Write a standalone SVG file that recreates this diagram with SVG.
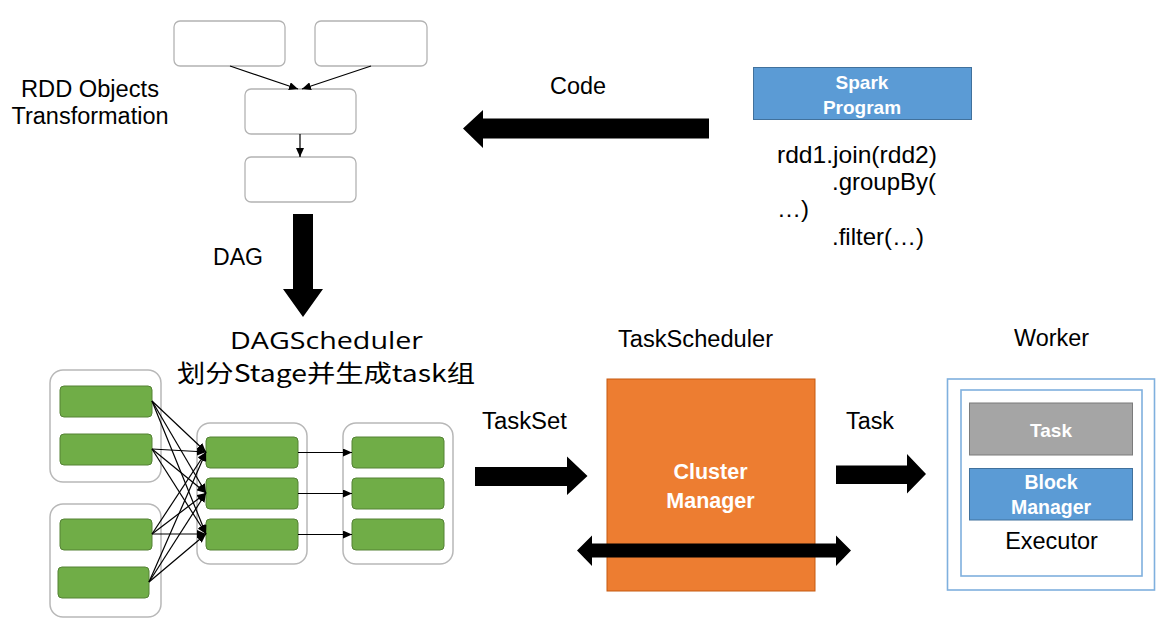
<svg xmlns="http://www.w3.org/2000/svg" width="1172" height="625" viewBox="0 0 1172 625">
<defs>
<marker id="ah" markerUnits="userSpaceOnUse" markerWidth="9" markerHeight="8" refX="9" refY="4" orient="auto">
<path d="M0,0 L9,4 L0,8 z" fill="#000"/>
</marker>
<style>
.lbl{font-family:"Liberation Sans",Arial,sans-serif;fill:#000}
.wb{font-family:"Liberation Sans",Arial,sans-serif;fill:#fff;font-weight:bold}
.cjk{font-family:"Noto Sans CJK SC","Open Sans",sans-serif;fill:#000}
.seg{font-family:"Open Sans","Noto Sans",sans-serif;fill:#000}
.rdd{fill:#fff;stroke:#b3b3b3;stroke-width:1.3}
.grp{fill:#fff;stroke:#b8b8b8;stroke-width:1.5}
.grn{fill:#70ad47;stroke:#548235;stroke-width:1}
.ln{stroke:#000;stroke-width:1.2;fill:none;marker-end:url(#ah)}
.big{fill:#000}
</style>
</defs>
<rect width="1172" height="625" fill="#fff"/>

<!-- RDD objects -->
<g id="rdd-a"><rect class="rdd" x="174" y="21" width="111" height="45" rx="6"/></g>
<g id="rdd-b"><rect class="rdd" x="315" y="21" width="112" height="45" rx="6"/></g>
<g id="rdd-c"><rect class="rdd" x="245" y="89" width="111" height="45" rx="6"/></g>
<g id="rdd-d"><rect class="rdd" x="245" y="157" width="111" height="45" rx="6"/></g>

<g id="label-rdd">
<text class="lbl" x="90" y="97" font-size="23" text-anchor="middle" textLength="138" lengthAdjust="spacingAndGlyphs">RDD Objects</text>
<text class="lbl" x="90" y="124" font-size="23" text-anchor="middle" textLength="157" lengthAdjust="spacingAndGlyphs">Transformation</text>
</g>
<g id="label-dag"><text class="lbl" x="213" y="265" font-size="23" textLength="50" lengthAdjust="spacingAndGlyphs">DAG</text></g>
<g id="label-code"><text class="lbl" x="550" y="94" font-size="23" textLength="56" lengthAdjust="spacingAndGlyphs">Code</text></g>

<!-- Spark program -->
<g id="spark-program">
<rect x="753.5" y="67.5" width="218" height="52" fill="#5b9bd5" stroke="#41719c" stroke-width="1"/>
<text class="wb" x="862" y="88.5" font-size="19" text-anchor="middle">Spark</text>
<text class="wb" x="862" y="113.5" font-size="19" text-anchor="middle">Program</text>
</g>
<g id="code-text">
<text class="lbl" x="777" y="163" font-size="24" textLength="160" lengthAdjust="spacingAndGlyphs">rdd1.join(rdd2)</text>
<text class="lbl" x="832" y="190" font-size="24">.groupBy(</text>
<text class="lbl" x="777" y="217" font-size="24">…)</text>
<text class="lbl" x="832" y="245" font-size="24">.filter(…)</text>
</g>

<!-- DAGScheduler -->
<g id="dag-scheduler-label">
<text class="seg" x="230" y="349" font-size="24" textLength="193" lengthAdjust="spacingAndGlyphs">DAGScheduler</text>
<text class="cjk" x="177" y="382" font-size="24" textLength="298" lengthAdjust="spacingAndGlyphs">划分Stage并生成task组</text>
</g>

<!-- stage groups -->
<g id="stage-a">
<rect class="grp" x="50" y="370" width="111" height="112" rx="13"/>
<rect class="grn" x="60" y="386" width="92" height="31" rx="4"/>
<rect class="grn" x="60" y="434" width="92" height="31" rx="4"/>
</g>
<g id="stage-b">
<rect class="grp" x="50" y="504" width="111" height="113" rx="13"/>
<rect class="grn" x="60" y="519" width="92" height="31" rx="4"/>
<rect class="grn" x="58" y="567" width="91" height="31" rx="4"/>
</g>
<g id="stage-c">
<rect class="grp" x="197" y="423" width="110" height="141" rx="13"/>
<rect class="grn" x="206" y="437" width="92" height="31" rx="4"/>
<rect class="grn" x="206" y="478" width="92" height="31" rx="4"/>
<rect class="grn" x="206" y="519" width="92" height="31" rx="4"/>
</g>
<g id="stage-d">
<rect class="grp" x="343" y="423" width="110" height="141" rx="13"/>
<rect class="grn" x="352" y="437" width="92" height="31" rx="4"/>
<rect class="grn" x="352" y="478" width="92" height="31" rx="4"/>
<rect class="grn" x="352" y="519" width="92" height="31" rx="4"/>
</g>

<!-- TaskScheduler -->
<g id="task-scheduler-label"><text class="lbl" x="618" y="347" font-size="23" textLength="155" lengthAdjust="spacingAndGlyphs">TaskScheduler</text></g>
<g id="cluster-manager">
<rect x="607" y="379" width="208" height="212" fill="#ed7d31" stroke="#c55a11" stroke-width="1"/>
<text class="wb" x="710.5" y="479" font-size="21.5" text-anchor="middle">Cluster</text>
<text class="wb" x="710.5" y="507.5" font-size="21.5" text-anchor="middle">Manager</text>
</g>
<g id="label-taskset"><text class="lbl" x="482" y="429" font-size="23" textLength="85" lengthAdjust="spacingAndGlyphs">TaskSet</text></g>
<g id="label-task"><text class="lbl" x="846" y="429" font-size="23" textLength="48" lengthAdjust="spacingAndGlyphs">Task</text></g>

<!-- Worker -->
<g id="worker-label"><text class="lbl" x="1014" y="346" font-size="23" textLength="75" lengthAdjust="spacingAndGlyphs">Worker</text></g>
<g id="worker">
<rect x="947.5" y="379" width="207" height="211" fill="#fff" stroke="#7fb0de" stroke-width="1.6"/>
</g>
<g id="executor">
<rect x="961" y="390" width="181" height="186" fill="#fff" stroke="#7fb0de" stroke-width="1.6"/>
<text class="lbl" x="1051.5" y="549" font-size="23.5" text-anchor="middle">Executor</text>
</g>
<g id="task">
<rect x="969.5" y="403" width="163" height="52" fill="#a5a5a5" stroke="#7b7b7b" stroke-width="1"/>
<text class="wb" x="1051" y="436.5" font-size="19" text-anchor="middle">Task</text>
</g>
<g id="block-manager">
<rect x="969.5" y="468.5" width="163" height="51.5" fill="#5b9bd5" stroke="#41719c" stroke-width="1"/>
<text class="wb" x="1051" y="488.5" font-size="19.5" text-anchor="middle">Block</text>
<text class="wb" x="1051" y="514" font-size="19.5" text-anchor="middle">Manager</text>
</g>

<!-- connectors -->
<g id="connectors">
<line class="ln" x1="230" y1="66" x2="298" y2="89"/>
<line class="ln" x1="371" y1="66" x2="302" y2="89"/>
<line class="ln" x1="300" y1="134" x2="300" y2="157"/>

<line class="ln" x1="152" y1="401" x2="206" y2="452"/>
<line class="ln" x1="152" y1="401" x2="206" y2="493"/>
<line class="ln" x1="152" y1="401" x2="206" y2="534"/>
<line class="ln" x1="152" y1="449" x2="206" y2="452"/>
<line class="ln" x1="152" y1="449" x2="206" y2="493"/>
<line class="ln" x1="152" y1="449" x2="206" y2="534"/>
<line class="ln" x1="152" y1="534" x2="206" y2="452"/>
<line class="ln" x1="152" y1="534" x2="206" y2="493"/>
<line class="ln" x1="152" y1="534" x2="206" y2="534"/>
<line class="ln" x1="149" y1="582" x2="206" y2="452"/>
<line class="ln" x1="149" y1="582" x2="206" y2="493"/>
<line class="ln" x1="149" y1="582" x2="206" y2="534"/>

<line class="ln" x1="298" y1="452.5" x2="352" y2="452.5"/>
<line class="ln" x1="298" y1="493.5" x2="352" y2="493.5"/>
<line class="ln" x1="298" y1="534.5" x2="352" y2="534.5"/>

<!-- block arrows -->
<path class="big" d="M709,118.5 L483,118.5 L483,110 L463,128.5 L483,148 L483,138.5 L709,138.5 z"/>
<path class="big" d="M293,214 L313,214 L313,289 L323,289 L303,317 L283,289 L293,289 z"/>
<path class="big" d="M475,467 L567,467 L567,456.5 L587.5,476 L567,495 L567,486 L475,486 z"/>
<path class="big" d="M836,465.5 L907,465.5 L907,454 L926,474 L907,493.5 L907,484 L836,484 z"/>
<path class="big" d="M577,550.5 L592,535.5 L592,543.5 L836,543.5 L836,535.5 L851,550.5 L836,566 L836,557.5 L592,557.5 L592,566 z"/>
</g>
</svg>
